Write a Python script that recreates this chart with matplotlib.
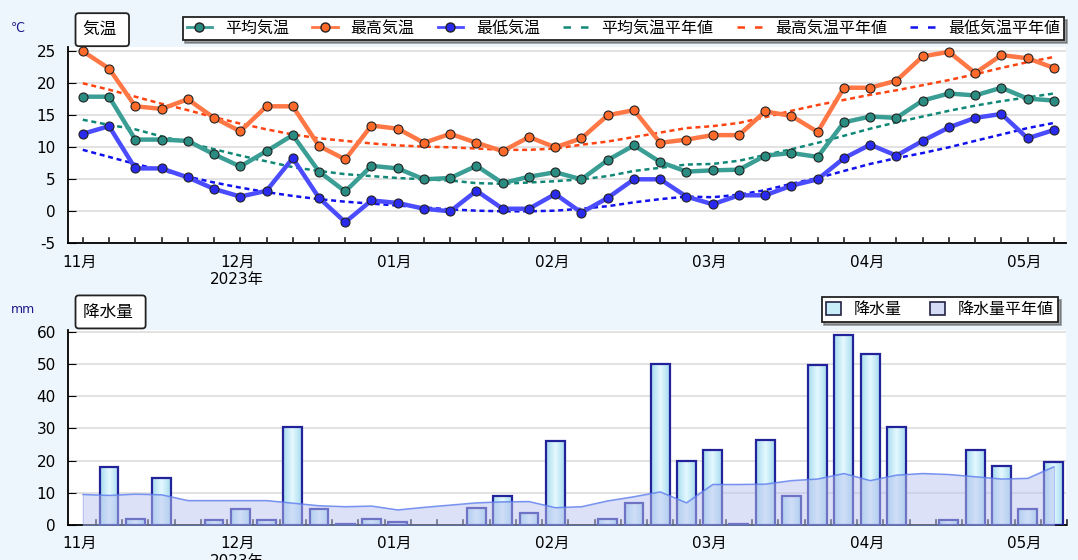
import matplotlib.pyplot as plt
import numpy as np
from matplotlib.colors import LinearSegmentedColormap
from matplotlib.lines import Line2D
from matplotlib.patches import Patch

plt.rcParams['font.family'] = ['DejaVu Sans', 'Noto Sans CJK JP']
plt.rcParams['axes.unicode_minus'] = False

# 半旬ごとの値 (2023/11/1-5 から 2024/5/6-10 まで)
month_labels = ['11月', '12月\n2023年', '01月', '02月', '03月', '04月', '05月']
month_pos = [0, 6, 12, 18, 24, 30, 36]

temp_mean = [17.9, 17.9, 11.2, 11.2, 11.0, 8.9, 7.0, 9.4, 11.9, 6.2, 3.1,
             7.1, 6.7, 5.0, 5.2, 7.1, 4.4, 5.4, 6.1, 5.0, 8.0, 10.3, 7.7, 6.2,
             6.4, 6.5, 8.7, 9.1, 8.5, 13.9, 14.8, 14.6, 17.3, 18.4, 18.1, 19.3, 17.6, 17.3]
temp_max = [25.0, 22.3, 16.4, 16.0, 17.5, 14.6, 12.5, 16.4, 16.4, 10.2, 8.1,
            13.4, 12.9, 10.7, 12.1, 10.7, 9.4, 11.6, 10.0, 11.4, 15.0, 15.8, 10.7, 11.2,
            11.9, 11.9, 15.6, 14.9, 12.4, 19.3, 19.3, 20.4, 24.2, 24.9, 21.6, 24.4, 23.9, 22.4]
temp_min = [12.1, 13.3, 6.7, 6.7, 5.3, 3.5, 2.3, 3.2, 8.3, 2.1, -1.7,
            1.7, 1.3, 0.4, 0.0, 3.2, 0.4, 0.4, 2.7, -0.2, 2.1, 5.0, 5.0, 2.3,
            1.1, 2.5, 2.5, 4.0, 5.0, 8.3, 10.4, 8.7, 11.0, 13.1, 14.6, 15.2, 11.4, 12.7]

normal_mean = [14.3, 13.5, 12.8, 11.7, 10.7, 9.7, 8.7, 7.8, 6.9, 6.3, 5.8,
               5.5, 5.2, 5.0, 4.8, 4.4, 4.3, 4.5, 4.7, 5.0, 5.5, 6.3, 6.8, 7.3,
               7.4, 7.9, 8.8, 9.7, 10.7, 11.8, 12.9, 13.9, 14.8, 15.7, 16.5, 17.2, 17.8, 18.4]
normal_max = [20.0, 19.0, 17.9, 16.8, 15.8, 14.7, 13.7, 12.8, 12.0, 11.4, 11.0,
              10.6, 10.3, 10.1, 10.0, 9.8, 9.6, 9.6, 9.8, 10.4, 10.9, 11.6, 12.3, 13.0,
              13.3, 13.8, 14.7, 15.7, 16.6, 17.4, 18.2, 18.9, 19.7, 20.5, 21.4, 22.4, 23.3, 24.1]
normal_min = [9.6, 8.5, 7.4, 6.4, 5.4, 4.5, 3.7, 3.0, 2.4, 1.9, 1.5,
              1.2, 0.9, 0.6, 0.3, 0.1, 0.0, 0.0, 0.1, 0.4, 0.8, 1.4, 1.9, 2.3,
              2.2, 2.6, 3.3, 4.3, 5.2, 6.3, 7.4, 8.3, 9.1, 10.0, 11.0, 12.0, 13.0, 13.8]

precip = [0, 18.0, 2.0, 14.5, 0, 1.5, 5.0, 1.5, 30.5, 5.0, 0.3,
          2.0, 1.0, 0, 0, 5.2, 9.1, 3.7, 26.0, 0, 2.0, 6.9, 50.0, 20.0,
          23.3, 0.3, 26.4, 9.1, 49.7, 59.0, 53.2, 30.5, 0, 1.4, 23.3, 18.3, 4.9, 19.5]
precip_normal = [9.5, 9.2, 9.6, 9.4, 7.6, 7.6, 7.6, 7.6, 6.8, 6.0, 5.7,
                 5.9, 4.7, 5.5, 6.2, 6.9, 7.2, 7.3, 5.4, 5.7, 7.5, 8.8, 10.3, 6.9,
                 12.6, 12.6, 12.7, 13.8, 14.3, 16.0, 13.8, 15.5, 16.0, 15.7, 15.0, 14.3, 14.5, 18.1]

x = np.arange(len(temp_mean))
bg = '#eef6fd'

fig = plt.figure(figsize=(10.78, 5.6), dpi=100, facecolor=bg)
ax1 = fig.add_axes([0.0634, 0.5655, 0.9252, 0.351])
ax2 = fig.add_axes([0.0634, 0.0625, 0.9252, 0.348])

for ax in (ax1, ax2):
    ax.set_facecolor('white')
    for s in ('top', 'right'):
        ax.spines[s].set_visible(False)
    for s in ('left', 'bottom'):
        ax.spines[s].set_linewidth(1.3)
    ax.yaxis.grid(True, color='#dddddd', linewidth=1.2)
    ax.set_axisbelow(True)
    ax.set_xlim(-0.55, 37.45)
    ax.set_xticks(np.array(month_pos) - 0.12, month_labels, fontsize=11)
    ax.tick_params(axis='x', direction='in', length=0, pad=8)
    ax.tick_params(axis='y', direction='in', length=6, labelsize=11, pad=9)

# 気温
ax1.plot(x, normal_mean, ':', color='#118877', lw=1.8, dashes=(2, 1.5), zorder=3)
ax1.plot(x, normal_max, ':', color='#ff4411', lw=1.8, dashes=(2, 1.5), zorder=3)
ax1.plot(x, normal_min, ':', color='#1111ee', lw=1.8, dashes=(2, 1.5), zorder=3)
ax1.plot(x, temp_mean, '-o', color='#3a9e94', mfc='#2a8c80', mec='#222222', mew=0.8,
         ms=6.5, lw=3.2, zorder=4)
ax1.plot(x, temp_max, '-o', color='#ff7744', mfc='#ff6a2a', mec='#222222', mew=0.8,
         ms=6.5, lw=3.2, zorder=4)
ax1.plot(x, temp_min, '-o', color='#4c4cff', mfc='#2a2aee', mec='#222222', mew=0.8,
         ms=6.5, lw=3.2, zorder=4)
ax1.set_ylim(-5, 25.7)
ax1.set_yticks(range(-5, 26, 5))
for xi in x:
    ax1.plot([xi, xi], [-5, -4.1], color='#222222', lw=1.2, zorder=5, clip_on=False)

# 降水量
edges = ['#22229a' if p > 0 else 'none' for p in precip]
bars = ax2.bar(x, precip, width=0.72, facecolor='none', edgecolor=edges,
               linewidth=1.6, zorder=3)
cmap = LinearSegmentedColormap.from_list('bar', ['#a6dbef', '#e6f9ff', '#a6dbef'])
grad = np.linspace(0, 1, 64).reshape(1, -1)
for b in bars:
    h = b.get_height()
    if h <= 0:
        continue
    x0, w = b.get_x(), b.get_width()
    im = ax2.imshow(grad, extent=[x0, x0 + w, 0, h], aspect='auto', cmap=cmap,
                    zorder=2, interpolation='bilinear')
    im.set_clip_path(b)
ax2.fill_between(x, precip_normal, color='#bcc4f0', alpha=0.5, edgecolor='#7f9af2',
                 linewidth=0.8, zorder=4)
ax2.plot(x, precip_normal, color='#5f7fee', lw=1.0, alpha=0.8, zorder=5)
ax2.set_ylim(0, 60.5)
ax2.set_yticks(range(0, 61, 10))
ax2.set_xlim(-0.55, 37.45)
for xi in x:
    ax2.plot([xi + 0.5, xi + 0.5], [0, 1.6], color='#222222', lw=1.2, zorder=1.5, clip_on=False)

# 単位とタイトル
fig.text(0.010, 0.950, '℃', color='#1a1a8c', fontsize=9, va='center')
fig.text(0.010, 0.447, 'mm', color='#1a1a8c', fontsize=9, va='center')
box = dict(boxstyle='round,pad=0.45,rounding_size=0.2', facecolor='white',
           edgecolor='#222222', linewidth=1.3)
fig.text(0.077, 0.947, '気温 ', fontsize=12, va='center', bbox=box)
fig.text(0.077, 0.443, '降水量 ', fontsize=12, va='center', bbox=box)

# 凡例
h_top = [
    Line2D([], [], color='#3a9e94', lw=2, marker='o', mfc='#2a8c80', mec='#222222', ms=6.5),
    Line2D([], [], color='#ff7744', lw=2, marker='o', mfc='#ff6a2a', mec='#222222', ms=6.5),
    Line2D([], [], color='#4c4cff', lw=2, marker='o', mfc='#2a2aee', mec='#222222', ms=6.5),
    Line2D([], [], color='#118877', lw=1.8, dashes=(3, 4)),
    Line2D([], [], color='#ff4411', lw=1.8, dashes=(3, 4)),
    Line2D([], [], color='#1111ee', lw=1.8, dashes=(3, 4)),
]
l_top = ['平均気温', '最高気温', '最低気温', '平均気温平年値', '最高気温平年値', '最低気温平年値']
leg1 = fig.legend(h_top, l_top, loc='center', bbox_to_anchor=(0.5784, 0.949), ncols=6,
                  fontsize=11.5, frameon=True, fancybox=False, shadow=True,
                  handlelength=1.6, handletextpad=0.8, columnspacing=1.45,
                  borderpad=0.25, edgecolor='#222222')
leg1.get_frame().set_linewidth(1.3)

h_bot = [Patch(facecolor='#c8eef9', edgecolor='#222244', linewidth=1.2),
         Patch(facecolor='#d6dbf5', edgecolor='#222244', linewidth=1.2)]
leg2 = fig.legend(h_bot, ['降水量', '降水量平年値'], loc='center',
                  bbox_to_anchor=(0.872, 0.4473), ncols=2, fontsize=11.5,
                  frameon=True, fancybox=False, shadow=True, handlelength=0.9,
                  handleheight=0.9, handletextpad=0.8, columnspacing=1.8,
                  borderpad=0.3, edgecolor='#222222')
leg2.get_frame().set_linewidth(1.3)

fig.savefig('out.png', dpi=100, facecolor=bg)
